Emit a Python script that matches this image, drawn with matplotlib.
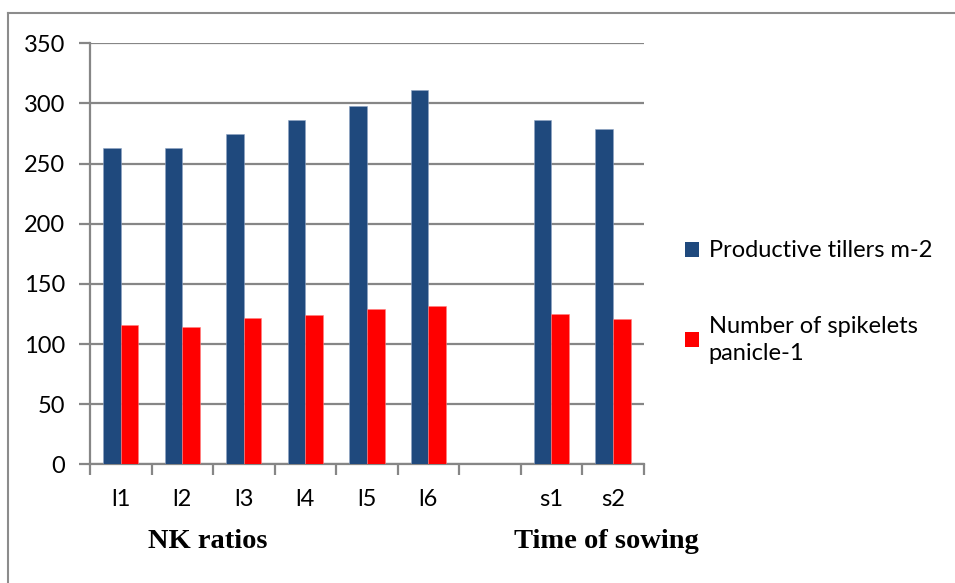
import matplotlib.pyplot as plt
from matplotlib.lines import Line2D
from matplotlib.patches import Patch
import numpy as np

categories = ['l1', 'l2', 'l3', 'l4', 'l5', 'l6', '', 's1', 's2']
tillers = [263, 263, 275, 286, 298, 311, np.nan, 286, 279]
spikelets = [116, 114, 122, 124, 129, 132, np.nan, 125, 121]
series_names = ['Productive tillers m-2', 'Number of spikelets\npanicle-1']
group_labels = ['NK ratios', 'Time of sowing']

blue = '#1f497d'
red = '#ff0000'
grid_col = '#868686'
tick_font = 'Lato'
fsize = 17

fig = plt.figure(figsize=(9.55, 5.83), dpi=100)
ax = fig.add_axes([90/955, 1 - 464.3/583, (643.7 - 90)/955, (464.3 - 43.3)/583])

x = np.arange(len(categories))
w = 0.287
ax.bar(x - w/2, tillers, w, color=blue, edgecolor='#8ea3c4', linewidth=0.4, zorder=3)
ax.bar(x + w/2, spikelets, w, color=red, edgecolor='#ff8080', linewidth=0.4, zorder=3)

ax.set_xlim(-0.5, len(categories) - 0.5)
ax.set_ylim(0, 350)
ax.set_yticks(range(0, 351, 50))
ax.yaxis.grid(True, color=grid_col, linewidth=1.6, zorder=0)
ax.set_axisbelow(True)

ax.set_xticks(x)
ax.set_xticklabels(categories, fontsize=fsize, family=tick_font)
ax.set_xticks(np.arange(-0.5, len(categories)), minor=True)
ax.tick_params(axis='x', which='major', length=0, pad=18)
ax.tick_params(axis='x', which='minor', length=8, width=1.6, color=grid_col, direction='out')
ax.tick_params(axis='y', length=8, width=1.6, color=grid_col, direction='out', pad=10)
for lab in ax.get_yticklabels():
    lab.set_fontsize(fsize)
    lab.set_family(tick_font)

for s in ['top', 'right']:
    ax.spines[s].set_visible(False)
for s in ['left', 'bottom']:
    ax.spines[s].set_color(grid_col)
    ax.spines[s].set_linewidth(1.6)

# group labels under the axis
fig.text(208/955, 1 - 541/583, group_labels[0], fontsize=20.5, fontweight='bold',
         family='Liberation Serif', ha='center', va='center')
fig.text(606/955, 1 - 541/583, group_labels[1], fontsize=20.5, fontweight='bold',
         family='Liberation Serif', ha='center', va='center')

# legend
handles = [Patch(facecolor=blue), Patch(facecolor=red)]
leg = fig.legend(handles, series_names, loc='center left', bbox_to_anchor=(664/955, 1 - 302/583),
                 frameon=False, prop={'family': tick_font, 'size': fsize},
                 handlelength=0.6, handleheight=0.6, handletextpad=0.4, labelspacing=2.3)
for t in leg.get_texts():
    t.set_linespacing(1.35)

# outer chart frame
fig.add_artist(Line2D([7.5/955, 1], [1 - 13/583, 1 - 13/583], color='#8c8c8c', linewidth=1.5))
fig.add_artist(Line2D([7.5/955, 7.5/955], [0, 1 - 13/583], color='#8c8c8c', linewidth=1.5))

plt.savefig('out.png', dpi=100)
